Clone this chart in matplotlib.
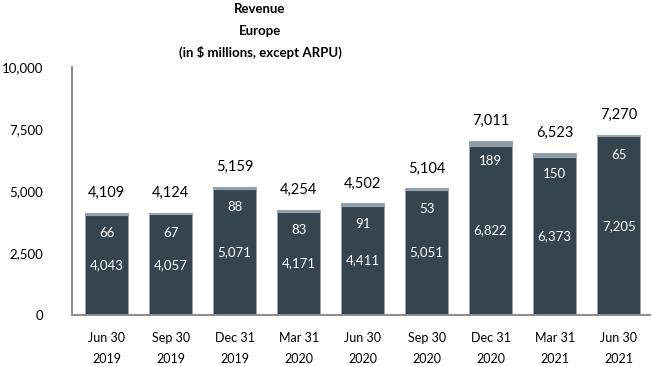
import numpy as np
import matplotlib.pyplot as plt

# quarter labels and revenue split (in $ millions)
quarters = ['Jun 30\n2019', 'Sep 30\n2019', 'Dec 31\n2019', 'Mar 31\n2020', 'Jun 30\n2020',
            'Sep 30\n2020', 'Dec 31\n2020', 'Mar 31\n2021', 'Jun 30\n2021']
main_rev = [4043, 4057, 5071, 4171, 4411, 5051, 6822, 6373, 7205]
other_rev = [66, 67, 88, 83, 91, 53, 189, 150, 65]
totals = [4109, 4124, 5159, 4254, 4502, 5104, 7011, 6523, 7270]

plt.rcParams['font.family'] = ['Lato', 'DejaVu Sans']

dark = '#35454f'
light = '#8e9ca6'

fig = plt.figure(figsize=(6.52, 3.66), dpi=100)
ax = fig.add_axes([72/652, 1 - 315/366, 578/652, 248/366])

x = np.arange(len(quarters))
w = 0.67
ax.bar(x, main_rev, w, color=dark, edgecolor='#9aa5ad', linewidth=0.6)
ax.bar(x, other_rev, w, bottom=main_rev, color=light, edgecolor='#9aa5ad', linewidth=0.8)

for i in range(len(x)):
    ax.text(x[i], main_rev[i] / 2, f'{main_rev[i]:,}', ha='center', va='center',
            color='white', fontsize=9.5)
    ax.text(x[i], totals[i] - 820, f'{other_rev[i]:,}', ha='center', va='center',
            color='white', fontsize=9.5)
    ax.text(x[i], totals[i] + 800, f'{totals[i]:,}', ha='center', va='center',
            color='black', fontsize=10.5)

ax.set_ylim(0, 10000)
ax.set_xlim(-0.54, 8.49)
ax.set_yticks([0, 2500, 5000, 7500, 10000])
ax.set_yticklabels(['0', '2,500', '5,000', '7,500', '10,000'], fontsize=9.5)
ax.set_xticks(x)
ax.set_xticklabels(quarters, fontsize=9, linespacing=1.9)
ax.tick_params(axis='y', length=0, pad=21)
ax.tick_params(axis='x', length=0, pad=12)
for s in ['top', 'right']:
    ax.spines[s].set_visible(False)
for s in ['left', 'bottom']:
    ax.spines[s].set_color('#8c8c8c')
    ax.spines[s].set_linewidth(1.4)

fig.text(260/652, 1 - 9/366, 'Revenue', ha='center', va='center', fontsize=9.5, fontweight='bold')
fig.text(260/652, 1 - 31/366, 'Europe', ha='center', va='center', fontsize=9.5, fontweight='bold')
fig.text(260/652, 1 - 52/366, '(in $ millions, except ARPU)', ha='center', va='center',
         fontsize=9.5, fontweight='bold')

fig.savefig('out.png', dpi=100)
